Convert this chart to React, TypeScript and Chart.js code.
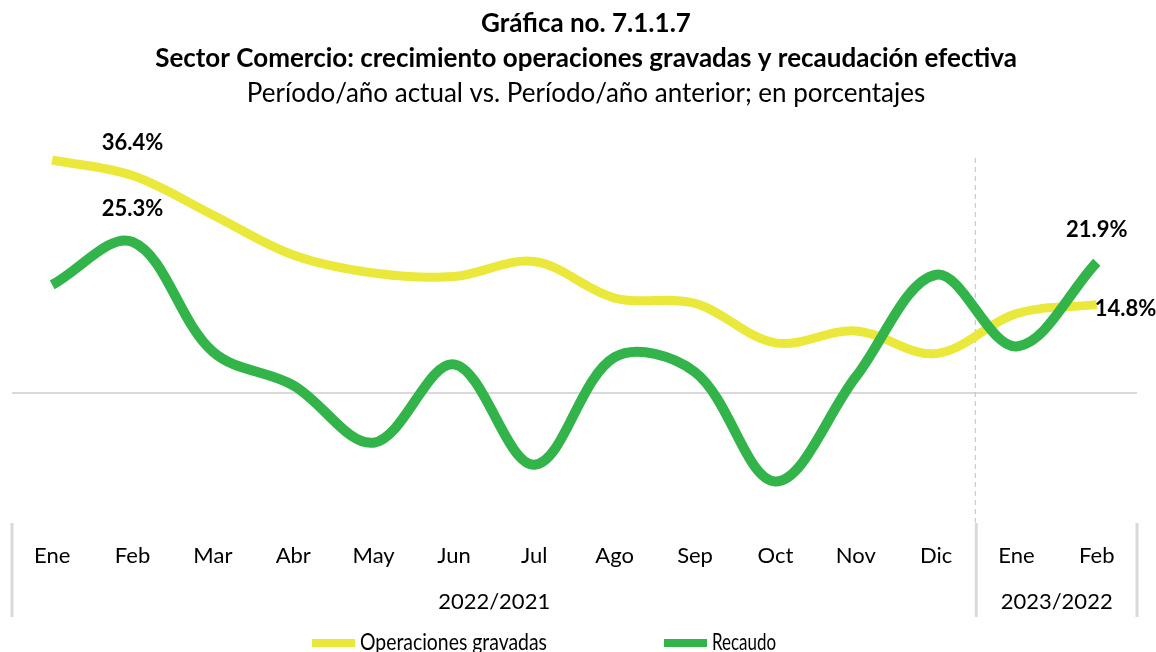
import React, { useEffect, useRef } from "react";
import { Chart, registerables } from "chart.js";

Chart.register(...registerables);

const months: string[] = ["Ene", "Feb", "Mar", "Abr", "May", "Jun", "Jul", "Ago", "Sep", "Oct", "Nov", "Dic", "Ene", "Feb"];
const operacionesGravadas: number[] = [39.0, 36.4, 29.8, 23.1, 20.1, 19.5, 22.0, 15.9, 15.0, 8.4, 10.4, 6.6, 13.3, 14.8];
const recaudo: number[] = [18.1, 25.3, 6.9, 1.3, -8.3, 4.8, -12.0, 6.0, 3.5, -14.8, 2.7, 19.8, 7.8, 21.9];
const groupLabels: string[] = ["2022/2021", "2023/2022"];
const groupSizes: number[] = [12, 2];
const titleLines: string[] = [
  "Gráfica no. 7.1.1.7",
  "Sector Comercio: crecimiento operaciones gravadas y recaudación efectiva",
  "Período/año actual vs. Período/año anterior; en porcentajes",
];
const seriesNames: string[] = ["Operaciones gravadas", "Recaudo"];

const YELLOW = "#EAE83A";
const GREEN = "#33B44B";
const FONT = "Lato";

const fmt = (v: number) => v.toFixed(1) + "%";

const decorPlugin = {
  id: "decor",
  beforeDatasetsDraw(chart: any) {
    const ctx = chart.ctx;
    const x = chart.scales.x;
    const y = chart.scales.y;
    const area = chart.chartArea;
    ctx.save();
    const y0 = y.getPixelForValue(0);
    ctx.strokeStyle = "#D9D9D9";
    ctx.lineWidth = 2;
    ctx.beginPath();
    ctx.moveTo(area.left, y0);
    ctx.lineTo(area.right, y0);
    ctx.stroke();
    const sepX = (x.getPixelForValue(groupSizes[0] - 1) + x.getPixelForValue(groupSizes[0])) / 2;
    ctx.strokeStyle = "#BFBFBF";
    ctx.lineWidth = 1;
    ctx.setLineDash([5, 4]);
    ctx.beginPath();
    ctx.moveTo(sepX - 1, 158);
    ctx.lineTo(sepX - 1, area.bottom + 10);
    ctx.stroke();
    ctx.restore();
  },
  afterDraw(chart: any) {
    const ctx = chart.ctx;
    const x = chart.scales.x;
    ctx.save();
    ctx.fillStyle = "#000";
    ctx.textAlign = "center";
    ctx.textBaseline = "alphabetic";
    const cx = 586;
    ctx.font = `bold 26px ${FONT}`;
    ctx.fillText(titleLines[0], cx, 32);
    ctx.fillText(titleLines[1], cx, 67);
    ctx.font = `26px ${FONT}`;
    ctx.fillText(titleLines[2], cx, 102);

    const half = (x.getPixelForValue(1) - x.getPixelForValue(0)) / 2;
    const bounds: number[] = [x.getPixelForValue(0) - half];
    let idx = 0;
    groupSizes.forEach((n) => {
      idx += n;
      bounds.push(x.getPixelForValue(idx - 1) + half);
    });
    ctx.strokeStyle = "#D9D9D9";
    ctx.lineWidth = 3;
    bounds.forEach((bx) => {
      ctx.beginPath();
      ctx.moveTo(bx, 523);
      ctx.lineTo(bx, 617);
      ctx.stroke();
    });
    ctx.font = `22px ${FONT}`;
    ctx.textBaseline = "middle";
    groupLabels.forEach((g, i) => {
      ctx.fillText(g, (bounds[i] + bounds[i + 1]) / 2, 602);
    });

    ctx.font = `bold 22px ${FONT}`;
    const m0 = chart.getDatasetMeta(0);
    const m1 = chart.getDatasetMeta(1);
    const last = months.length - 1;
    ctx.textAlign = "center";
    const p1 = m0.data[1];
    ctx.fillText(fmt(operacionesGravadas[1]), p1.x, p1.y - 33);
    const p2 = m1.data[1];
    ctx.fillText(fmt(recaudo[1]), p2.x, p2.y - 33);
    const p3 = m1.data[last];
    ctx.fillText(fmt(recaudo[last]), p3.x, p3.y - 32);
    const p4 = m0.data[last];
    ctx.textAlign = "left";
    ctx.fillText(fmt(operacionesGravadas[last]), p4.x - 2, p4.y + 4);

    const colors = [YELLOW, GREEN];
    const legendX = [312, 664];
    const legendW = [187, 64];
    ctx.font = `23px ${FONT}`;
    ctx.textBaseline = "alphabetic";
    seriesNames.forEach((name, i) => {
      ctx.fillStyle = colors[i];
      ctx.fillRect(legendX[i], 639, 43, 8);
      ctx.fillStyle = "#000";
      ctx.fillText(name, legendX[i] + 48, 650, legendW[i]);
    });
    ctx.restore();
  },
};

export default function App() {
  const ref = useRef<HTMLCanvasElement | null>(null);
  useEffect(() => {
    document.body.style.margin = "0";
    if (!ref.current) return;
    const chart = new Chart(ref.current, {
      type: "line",
      data: {
        labels: months,
        datasets: [
          {
            label: seriesNames[0],
            data: operacionesGravadas,
            borderColor: YELLOW,
            backgroundColor: YELLOW,
            borderWidth: 9,
            pointRadius: 0,
            tension: 0.35,
            order: 1,
          },
          {
            label: seriesNames[1],
            data: recaudo,
            borderColor: GREEN,
            backgroundColor: GREEN,
            borderWidth: 10,
            pointRadius: 0,
            tension: 0.35,
            order: 0,
          },
        ],
      },
      options: {
        responsive: false,
        animation: false,
        layout: { padding: { left: 12, right: 19, top: 154, bottom: 53 } },
        plugins: { legend: { display: false }, title: { display: false }, tooltip: { enabled: false } },
        scales: {
          x: {
            offset: true,
            grid: { display: false, drawTicks: false },
            border: { display: false },
            ticks: {
              color: "#000",
              font: { family: FONT, size: 22 },
              padding: 30,
              maxRotation: 0,
              autoSkip: false,
            },
          },
          y: {
            display: false,
            min: -20,
            max: 40,
          },
        },
      },
      plugins: [decorPlugin],
    });
    return () => chart.destroy();
  }, []);
  return <canvas ref={ref} width={1156} height={652} style={{ display: "block" }} />;
}
